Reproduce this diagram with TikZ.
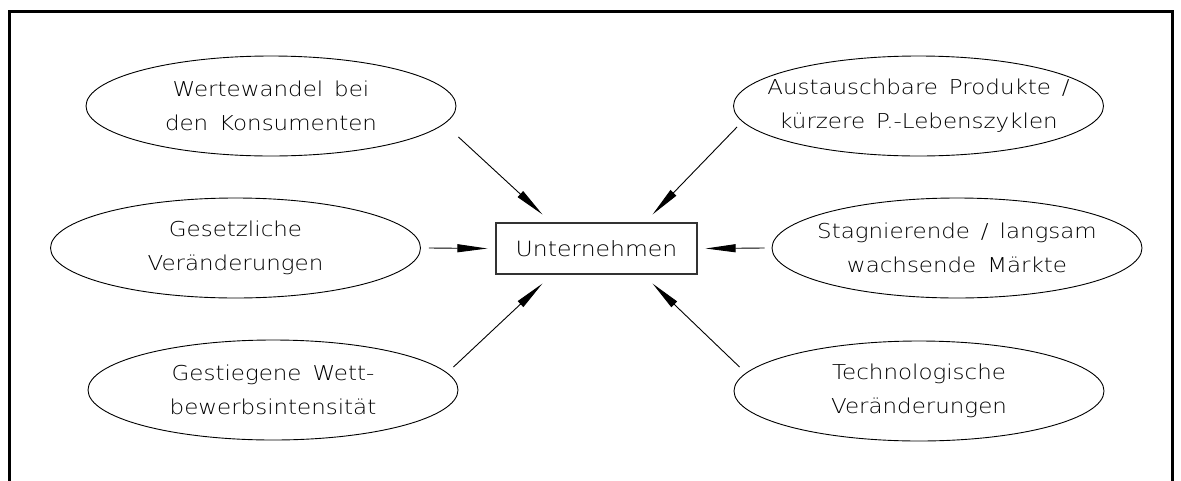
\documentclass[tikz,border=0pt]{standalone}
\usepackage{fontspec}
\setmainfont{DejaVu Sans ExtraLight}[FakeStretch=1.12,WordSpace=1.5]
\usetikzlibrary{shapes.geometric,arrows.meta,calc}

\begin{document}
\begin{tikzpicture}[x=1pt,y=-1pt,
  oval/.style={ellipse,draw,line width=0.9pt,inner sep=0pt,
    minimum width=370pt,minimum height=100pt},
  ovaltext/.style={align=center,inner sep=0pt,
    font=\fontsize{20.5}{34}\selectfont},
  centerbox/.style={draw=black!80,line width=1.2pt,inner sep=0pt,
    minimum width=201pt,minimum height=51pt,
    font=\fontsize{21}{25}\selectfont},
  influence/.style={line width=0.9pt,
    -{Triangle[length=30pt,width=8pt]}}
]
\useasboundingbox (0,0) rectangle (1181,480);

% frame, open at the bottom
\draw[line width=3pt] (9.5,482) -- (9.5,11) -- (1172.5,11) -- (1172.5,482);

% central box
\node[centerbox] (box) at (596.5,248.5) {Unternehmen};

% influencing factors
\node[oval,label={[ovaltext]center:{Wertewandel bei\\den Konsumenten}}]
  (e1) at (271,106) {};
\node[oval,label={[ovaltext]center:{Gesetzliche\\Veränderungen}}]
  (e2) at (235.5,248) {};
\node[oval,label={[ovaltext]center:{Gestiegene Wett-\\bewerbsintensität}}]
  (e3) at (273,390) {};
\node[oval,label={[ovaltext]center:{Austauschbare Produkte /\\kürzere P.-Lebenszyklen}}]
  (e4) at (918.5,106) {};
\node[oval,label={[ovaltext]center:{Stagnierende / langsam\\wachsende Märkte}}]
  (e5) at (957,248) {};
\node[oval,label={[ovaltext]center:{Technologische\\Veränderungen}}]
  (e6) at (919,391) {};

% arrow ends
\coordinate (s1) at ($(e1.east)+(2,31)$);
\coordinate (s2) at ($(e2.east)+(8,0)$);
\coordinate (s3) at ($(e3.east)+(-5,-23)$);
\coordinate (s4) at ($(e4.west)+(4,21)$);
\coordinate (s5) at ($(e5.west)+(-7,0)$);
\coordinate (s6) at ($(e6.west)+(6,-24)$);

\coordinate (t1) at ($(box.north west)+(47,-8)$);
\coordinate (t2) at ($(box.west)+(-8,0)$);
\coordinate (t3) at ($(box.south west)+(47,9)$);
\coordinate (t4) at ($(box.north east)+(-45,-8)$);
\coordinate (t5) at ($(box.east)+(8,0)$);
\coordinate (t6) at ($(box.south east)+(-45,9)$);

\foreach \i in {1,...,6}
  \draw[influence] (s\i) -- (t\i);
\end{tikzpicture}
\end{document}
